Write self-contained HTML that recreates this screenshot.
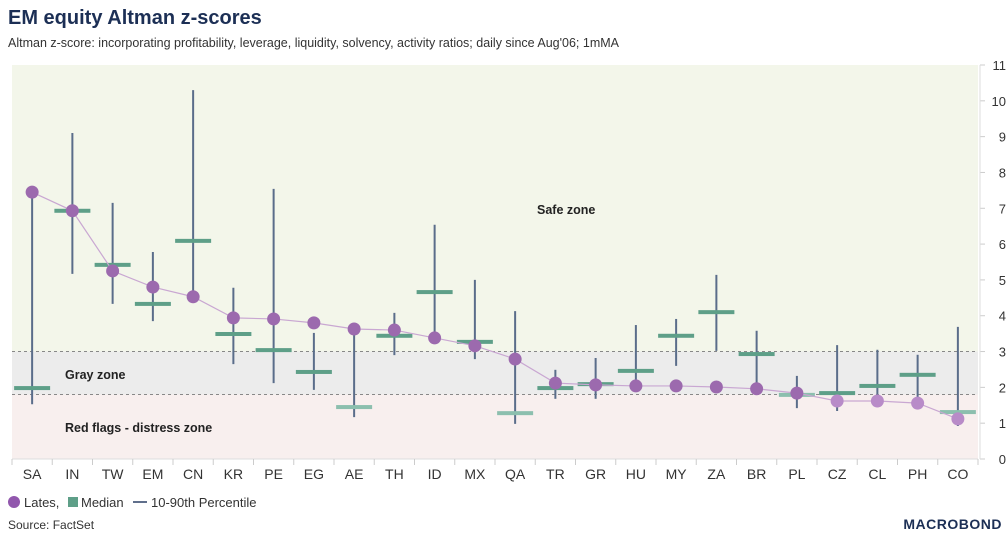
<!DOCTYPE html>
<html><head><meta charset="utf-8"><style>
body{margin:0;background:#fff;width:1008px;height:542px;overflow:hidden;font-family:"Liberation Sans",sans-serif;}
</style></head><body>
<svg width="1008" height="542" viewBox="0 0 1008 542" xmlns="http://www.w3.org/2000/svg">
<text x="8" y="24" font-size="20" font-weight="bold" fill="#1c2f55">EM equity Altman z-scores</text>
<text x="8" y="47" font-size="12.5" fill="#333">Altman z-score: incorporating profitability, leverage, liquidity, solvency, activity ratios; daily since Aug'06; 1mMA</text>
<g id="zones"></g>
<g id="axis"></g>
<g id="marks"></g>
<g>
<circle cx="14" cy="502" r="6" fill="#9157ad"/>
<text x="24" y="507" font-size="13" fill="#333">Lates,</text>
<rect x="68" y="497" width="10" height="10" fill="#5e9f88"/>
<text x="81" y="507" font-size="13" fill="#333">Median</text>
<line x1="133" y1="502" x2="147" y2="502" stroke="#2b3f66" stroke-width="1.5"/>
<text x="151" y="507" font-size="13" fill="#333">10-90th Percentile</text>
</g>
<text x="8" y="529" font-size="12" fill="#333">Source: FactSet</text>
<text x="1002" y="529" font-size="14" font-weight="bold" fill="#1c2f55" text-anchor="end" letter-spacing="0.5">MACROBOND</text>
</svg>
<script>
const categories=["SA","IN","TW","EM","CN","KR","PE","EG","AE","TH","ID","MX","QA","TR","GR","HU","MY","ZA","BR","PL","CZ","CL","PH","CO"];
const latest=[7.45,6.93,5.25,4.8,4.53,3.94,3.91,3.8,3.63,3.6,3.38,3.16,2.79,2.12,2.07,2.04,2.04,2.01,1.96,1.84,1.62,1.62,1.56,1.12];
const median=[1.98,6.93,5.42,4.33,6.09,3.49,3.04,2.43,1.45,3.44,4.66,3.27,1.28,1.98,2.09,2.46,3.44,4.1,2.93,1.79,1.84,2.04,2.35,1.31];
const p90=[7.45,9.1,7.15,5.78,10.3,4.78,7.54,3.52,3.63,4.08,6.54,5.0,4.13,2.49,2.82,3.74,3.91,5.14,3.58,2.32,3.18,3.05,2.91,3.69];
const p10=[1.53,5.17,4.33,3.85,4.53,2.65,2.12,1.93,1.17,2.9,3.38,2.79,0.98,1.68,1.68,2.04,2.6,3.02,1.96,1.42,1.34,1.62,1.56,0.92];
const yTicks=[0,1,2,3,4,5,6,7,8,9,10,11];
const zoneBounds=[0,1.8,3,11];
const NS="http://www.w3.org/2000/svg";
const X0=12,X1=978,Y0=459,Y1=65;
const band=(X1-X0)/categories.length;
const x=i=>X0+band*(i+0.5);
const y=v=>Y0-(v/11)*(Y0-Y1);
function mk(tag,attrs,parent){const e=document.createElementNS(NS,tag);for(const k in attrs)e.setAttribute(k,attrs[k]);document.getElementById(parent).appendChild(e);return e;}
// zones
let z=mk("rect",{x:X0,y:y(zoneBounds[3]),width:X1-X0,height:y(zoneBounds[2])-y(zoneBounds[3]),fill:"#f3f6ea"},"zones");


z=mk("rect",{x:X0,y:y(zoneBounds[2]),width:X1-X0,height:y(zoneBounds[1])-y(zoneBounds[2]),fill:"#ececec"},"zones");


z=mk("rect",{x:X0,y:y(zoneBounds[1]),width:X1-X0,height:y(zoneBounds[0])-y(zoneBounds[1]),fill:"#f8efee"},"zones");


[zoneBounds[2],zoneBounds[1]].forEach(v=>{const l=mk("line",{x1:X0,x2:X1,y1:y(v),y2:y(v),stroke:"#888","stroke-dasharray":"3,3","stroke-width":1},"zones");

});
const zl=[["Safe zone",537,214,'safe-zone-label'],["Gray zone",65,379,'gray-zone-label'],["Red flags - distress zone",65,432,'distress-zone-label']];
zl.forEach(a=>{const t=mk("text",{x:a[1],y:a[2],"font-size":12.5,"font-weight":"bold",fill:"#222"},"zones");t.textContent=a[0];

});
// axes
yTicks.forEach(v=>{mk("line",{x1:X1+2,x2:X1+7,y1:y(v),y2:y(v),stroke:"#ccc"},"axis");
const t=mk("text",{x:X1+28,y:y(v)+5,"font-size":13,fill:"#333","text-anchor":"end"},"axis");t.textContent=v;

});
mk("line",{x1:X1+2,x2:X1+2,y1:Y1,y2:Y0,stroke:"#ddd"},"axis");
mk("line",{x1:X0,x2:X1,y1:Y0,y2:Y0,stroke:"#ddd"},"axis");
for(let i=0;i<=categories.length;i++)mk("line",{x1:X0+band*i,x2:X0+band*i,y1:Y0,y2:Y0+6,stroke:"#ccc"},"axis");
categories.forEach((c,i)=>{const t=mk("text",{x:x(i),y:479,"font-size":14,fill:"#333","text-anchor":"middle"},"axis");t.textContent=c;

});
// marks
categories.forEach((c,i)=>{const l=mk("line",{x1:x(i),x2:x(i),y1:y(p90[i]),y2:y(p10[i]),stroke:"#5a6d8a","stroke-width":2},"marks");

});
categories.forEach((c,i)=>{const r=mk("rect",{x:x(i)-18,y:y(median[i])-2,width:36,height:4,fill:median[i]<1.8?"#8cbfae":"#5e9f88"},"marks");

});
const pl=mk("polyline",{points:latest.map((v,i)=>x(i)+","+y(v)).join(" "),fill:"none",stroke:"#c9a7d2","stroke-width":1.2},"marks");


categories.forEach((c,i)=>{const p=mk("circle",{cx:x(i),cy:y(latest[i]),r:6.5,fill:latest[i]<1.75?"#b88bc8":"#9c6aae"},"marks");

});
</script>
</body></html>
